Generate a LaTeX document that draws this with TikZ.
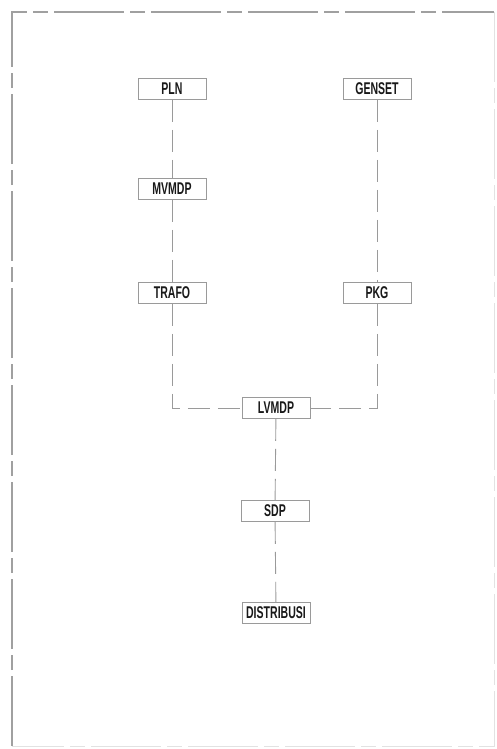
\documentclass[tikz,border=0pt]{standalone}
\usepackage{fontspec}
\setmainfont{Liberation Sans}
\usepackage{graphicx}
\definecolor{linegray}{HTML}{9A9A9A}
\definecolor{framegray}{HTML}{A0A0A0}
\definecolor{faintgray}{HTML}{E2E2E2}
\tikzset{
  unitbox/.style={draw=linegray, line width=0.9pt, minimum width=68pt, minimum height=21pt, inner sep=0pt, font=\fontsize{17}{17}\selectfont\bfseries, text=black!90},
  conn/.style={draw=linegray, line width=0.9pt, dash pattern=on 22pt off 8pt},
  framel/.style={draw=framegray, line width=1.1pt, dash pattern=on 70pt off 6pt on 15pt off 6pt},
  framef/.style={draw=faintgray, line width=1pt, dash pattern=on 70pt off 6pt on 15pt off 6pt}
}
\newcommand{\nar}[1]{\scalebox{0.62}[1]{#1}}
\begin{document}
\begin{tikzpicture}[x=1pt,y=-1pt]
\useasboundingbox (0,0) rectangle (497,749);
% frame
\path[framel] (12,746) -- (12,12) -- (494,12);
\path[framef] (494,12) -- (494,746) -- (12,746);
% nodes
\node[unitbox] (pln) at (172,89) {\nar{PLN}};
\node[unitbox] (genset) at (377,89) {\nar{GENSET}};
\node[unitbox] (mvmdp) at (172,189) {\nar{MVMDP}};
\node[unitbox] (trafo) at (172,293) {\nar{TRAFO}};
\node[unitbox] (pkg) at (377,293) {\nar{PKG}};
\node[unitbox] (lvmdp) at (276,408) {\nar{LVMDP}};
\node[unitbox] (sdp) at (275,511) {\nar{SDP}};
\node[unitbox] (dist) at (276,613) {\nar{DISTRIBUSI}};
% connectors
\path[conn] (pln) -- (mvmdp);
\path[conn] (mvmdp) -- (trafo);
\path[conn] (genset) -- (pkg);
\path[conn] (trafo.south) |- (lvmdp.west);
\path[conn] (pkg.south) |- (lvmdp.east);
\path[conn] (lvmdp) -- (sdp);
\path[conn] (sdp) -- (dist);
\end{tikzpicture}
\end{document}
